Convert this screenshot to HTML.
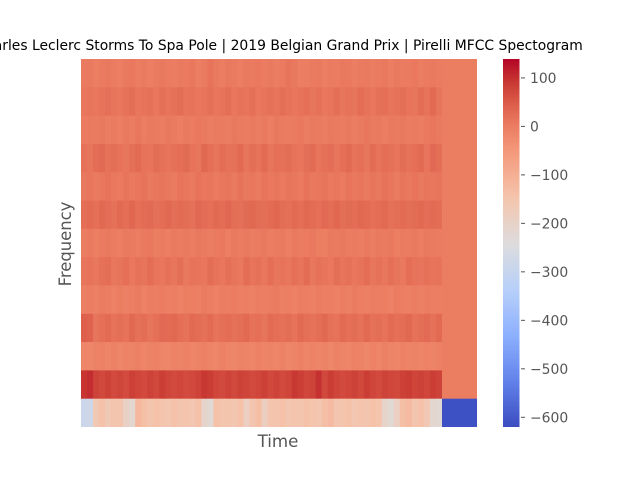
<!DOCTYPE html>
<html>
<head>
<meta charset="utf-8">
<title>MFCC Spectogram</title>
<style>
html,body{margin:0;padding:0;background:#fff;width:640px;height:480px;overflow:hidden}
svg{display:block}
text{font-family:"DejaVu Sans","Liberation Sans",sans-serif}
</style>
</head>
<body>
<svg id="chart" width="640" height="480" viewBox="0 0 640 480">
  <text x="279" y="50" text-anchor="middle" font-size="13.89" fill="#000">Charles Leclerc Storms To Spa Pole | 2019 Belgian Grand Prix | Pirelli MFCC Spectogram</text>
  <g id="heatmap"></g>
  <text x="278" y="447" text-anchor="middle" font-size="16.67" fill="#555">Time</text>
  <text transform="translate(71,244) rotate(-90)" text-anchor="middle" font-size="16.4" fill="#555">Frequency</text>
  <g id="colorbar"></g>
</svg>
<script>
const rowCoef12 = [2,5,-2,3,6,1,-3,4,7,0,3,-4,2,6,1,-1,5,3,8,-2,2,14,4,0,6,3,-2,5,2,7,1,4,-1,3,12,6,-3,0,2,5,-2,3,1,6,4,-1,3,5,0,2,6,-2,4,1,3,7,0,2,4,1];
const rowCoef11 = [8,12,9,14,20,11,8,16,22,10,14,18,9,20,13,17,24,11,15,8,12,19,10,14,22,9,16,12,20,8,13,18,11,22,15,9,14,20,12,17,8,13,21,10,16,12,24,14,9,18,20,11,16,22,13,10,24,15,28,12];
const rowCoef10 = [1,4,2,6,0,3,-3,5,1,8,-1,4,2,0,6,3,-2,5,1,7,4,0,3,2,-1,6,3,1,5,0,4,-2,6,2,1,3,7,0,4,2,-1,5,3,1,6,0,2,8,3,5,-1,4,2,6,1,3,0,5,9,4];
const rowCoef9 = [18,12,24,28,16,22,14,10,20,26,15,13,24,18,11,17,22,27,14,10,30,20,12,24,16,18,28,12,22,15,26,11,20,17,24,14,10,21,27,13,18,23,12,20,28,15,19,10,25,14,22,17,12,24,16,20,26,13,29,22];
const rowCoef8 = [6,10,4,8,14,7,3,12,5,9,15,4,8,11,6,2,13,9,4,14,7,10,3,8,12,5,15,6,9,3,13,7,10,4,12,8,2,14,6,9,11,5,8,3,13,7,10,4,12,6,15,9,3,11,7,13,5,10,8,12];
const rowCoef7 = [22,26,20,30,24,18,28,22,32,20,25,29,19,24,30,21,27,23,18,31,25,20,28,24,33,22,19,27,30,23,21,26,32,24,19,28,22,30,25,20,29,24,33,21,27,23,30,26,20,24,28,18,22,26,21,25,30,23,27,24];
const rowCoef6 = [0,4,-2,3,6,1,-3,5,2,-1,4,7,0,3,-2,5,1,4,-1,6,2,0,3,7,-2,4,1,5,-1,3,6,0,2,4,-3,5,1,3,7,0,-2,4,2,6,1,3,-1,5,0,4,2,6,-2,3,1,5,0,4,2,1];
const rowCoef5 = [10,14,8,18,22,9,12,20,7,16,11,24,13,8,18,10,21,6,15,12,9,23,14,8,19,11,7,24,13,17,9,22,10,15,8,20,12,25,9,16,11,7,21,13,18,8,14,23,10,16,9,19,12,7,22,14,11,17,13,15];
const rowCoef4 = [-4,-1,-6,2,-3,-8,0,-5,-2,3,-7,-1,-4,1,-6,-3,-9,0,-2,-5,2,-4,-7,-1,-3,1,-6,-2,-8,0,-4,-1,3,-5,-2,-7,0,-3,-6,1,-4,-2,-8,-1,-5,2,-3,-6,0,-4,-2,-7,1,-3,-5,-1,-6,0,-3,-2];
const rowCoef3 = [42,38,12,20,26,16,22,14,30,18,24,12,20,28,26,30,22,16,28,24,18,26,14,20,24,18,22,28,16,20,12,26,22,18,24,14,28,20,16,22,30,18,14,26,20,24,16,28,18,22,14,26,20,24,30,16,22,26,18,28];
const rowCoef2 = [-14,-18,-10,-8,-13,-7,-16,-9,-12,-6,-15,-10,-8,-13,-17,-9,-11,-7,-14,-10,-6,-12,-16,-8,-13,-18,-9,-11,-15,-7,-12,-10,-14,-8,-16,-11,-6,-13,-9,-15,-10,-17,-8,-12,-14,-7,-10,-16,-9,-13,-6,-11,-15,-8,-12,-10,-14,-9,-11,-7];
const rowCoef1 = [95,102,78,72,80,70,76,68,82,74,70,78,72,84,76,70,74,68,72,78,92,86,74,70,78,72,80,76,70,74,82,72,78,70,76,92,84,74,78,98,72,86,76,70,74,80,72,84,76,70,78,74,72,82,86,76,80,74,84,78];
const rowCoef0 = [-285,-280,-160,-140,-165,-145,-150,-195,-215,-120,-135,-150,-140,-145,-155,-140,-150,-145,-155,-140,-205,-225,-140,-150,-145,-155,-140,-190,-150,-135,-185,-150,-145,-140,-155,-145,-150,-140,-145,-155,-135,-125,-150,-145,-140,-155,-145,-150,-140,-145,-205,-225,-190,-135,-125,-150,-140,-160,-215,-225];
const paddingValues = [0,0,0,0,0,0,0,0,0,0,0,0,-612];
const colorbarTicks = [100,0,-100,-200,-300,-400,-500,-600];
const valueMin = -620;
const valueMax = 139;

const rows = [rowCoef12,rowCoef11,rowCoef10,rowCoef9,rowCoef8,rowCoef7,rowCoef6,rowCoef5,rowCoef4,rowCoef3,rowCoef2,rowCoef1,rowCoef0];

const NS = 'http://www.w3.org/2000/svg';
const plotLeft = 81, plotRight = 477, dataRight = 442, plotTop = 59, plotBottom = 427;
const barLeft = 503, barRight = 519.5;

const stops = [[0,59,76,192],[0.125,98,130,234],[0.25,141,176,254],[0.375,184,208,249],[0.5,221,220,220],[0.625,245,196,172],[0.75,244,152,122],[0.8125,236,127,99],[0.875,221,95,75],[0.9375,200,56,50],[1,180,4,38]];
function coolwarm(t){
  t = Math.max(0, Math.min(1, t));
  for (let i = 1; i < stops.length; i++) {
    if (t <= stops[i][0]) {
      const a = stops[i-1], b = stops[i], f = (t - a[0]) / (b[0] - a[0]);
      return 'rgb(' + [1,2,3].map(k => Math.round(a[k] + (b[k] - a[k]) * f)).join(',') + ')';
    }
  }
  return 'rgb(180,4,38)';
}
function colorOf(v){ return coolwarm((v - valueMin) / (valueMax - valueMin)); }
function rowY(i){ return plotTop + (plotBottom - plotTop) * i / rows.length; }
function colX(j, n){ return plotLeft + (dataRight - plotLeft) * j / n; }
function valueY(v){ return plotTop + (valueMax - v) / (valueMax - valueMin) * (plotBottom - plotTop); }

function makeRect(x, y, w, h, fill){
  const r = document.createElementNS(NS, 'rect');
  r.setAttribute('x', x);
  r.setAttribute('y', y);
  r.setAttribute('width', w);
  r.setAttribute('height', h);
  r.setAttribute('fill', fill);
  return r;
}

const heatmap = document.getElementById('heatmap');
rows.forEach(function(row, i){
  const y0 = rowY(i), y1 = rowY(i + 1);
  row.forEach(function(v, j){
    const x0 = colX(j, row.length), x1 = colX(j + 1, row.length);
    const cell = makeRect(x0, y0, x1 - x0 + 0.4, y1 - y0 + (i === rows.length - 1 ? 0 : 0.4), colorOf(v));
    
    
    heatmap.appendChild(cell);
  });
  const pad = makeRect(dataRight, y0, plotRight - dataRight, y1 - y0 + (i === rows.length - 1 ? 0 : 0.4), colorOf(paddingValues[i]));
  
  
  heatmap.appendChild(pad);
});

const colorbar = document.getElementById('colorbar');
const barSteps = 184;
for (let k = 0; k < barSteps; k++) {
  const v = valueMax - (valueMax - valueMin) * (k + 0.5) / barSteps;
  const y = plotTop + (plotBottom - plotTop) * k / barSteps;
  const seg = makeRect(barLeft, y, barRight - barLeft, (plotBottom - plotTop) / barSteps + (k === barSteps - 1 ? 0 : 0.4), colorOf(v));
  
  
  colorbar.appendChild(seg);
}
colorbarTicks.forEach(function(v){
  const y = valueY(v);
  const tick = document.createElementNS(NS, 'line');
  tick.setAttribute('x1', barRight + 1.5);
  tick.setAttribute('x2', barRight + 5.5);
  tick.setAttribute('y1', y);
  tick.setAttribute('y2', y);
  tick.setAttribute('stroke', '#555');
  tick.setAttribute('stroke-width', '1');
  
  
  colorbar.appendChild(tick);
  const label = document.createElementNS(NS, 'text');
  label.setAttribute('x', 530);
  label.setAttribute('y', y + 5);
  label.setAttribute('font-size', '13.9');
  label.setAttribute('fill', '#555');
  
  
  label.textContent = String(v).replace('-', '\u2212');
  colorbar.appendChild(label);
});
</script>
</body>
</html>
